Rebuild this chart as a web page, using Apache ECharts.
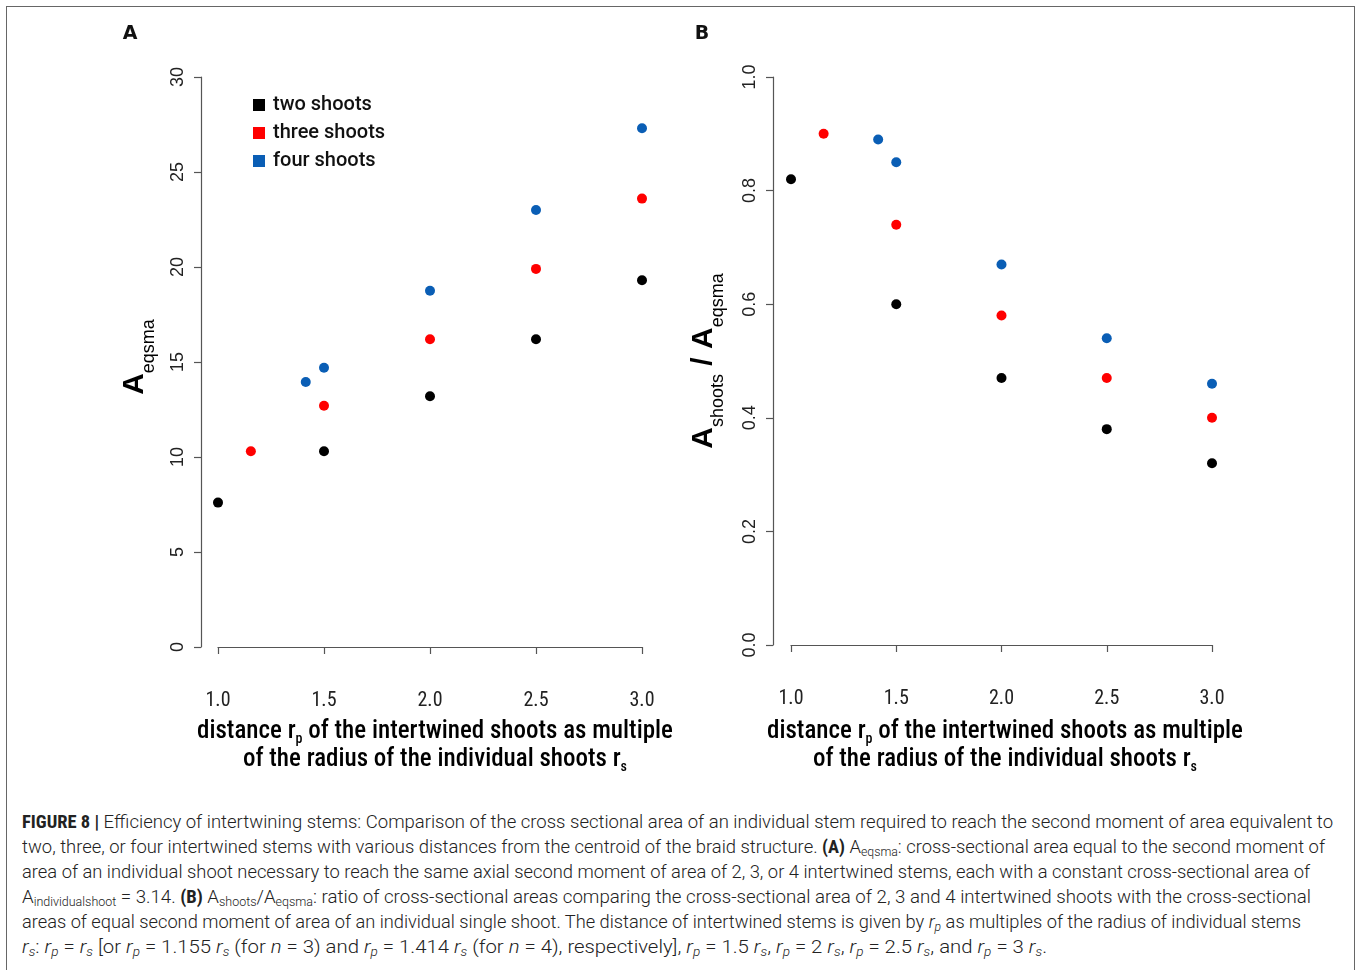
<!DOCTYPE html>
<html>
<head>
<meta charset="utf-8">
<script src="https://cdn.jsdelivr.net/npm/echarts@6/dist/echarts.min.js"></script>
<style>
  html, body { margin: 0; padding: 0; background: #fff; }
  #frame { position: absolute; left: 6px; top: 6px; width: 1349px; height: 975px; border: 1.5px solid #666; box-sizing: border-box; }
  #chart { position: absolute; left: 0; top: 0; width: 1358px; height: 800px; }
  #caption { position: absolute; left: 22px; top: 809px; width: 1330px; font-family: Roboto, 'Liberation Sans', sans-serif; font-weight: 300; font-size: 18px; line-height: 25px; color: #222; }
  #caption div { white-space: nowrap; display: block; width: max-content; transform-origin: 0 50%; }
  #caption b { font-weight: 700; font-family: 'Roboto Condensed', Roboto, sans-serif; }
  #caption sub { font-size: 12px; vertical-align: -3px; line-height: 0; }
</style>
</head>
<body>
<div id="frame"></div>
<div id="chart"></div>
<div id="caption">
<div data-w="1311"><b>FIGURE 8 |</b> Efficiency of intertwining stems: Comparison of the cross sectional area of an individual stem required to reach the second moment of area equivalent to</div>
<div data-w="1303">two, three, or four intertwined stems with various distances from the centroid of the braid structure. <b>(A)</b> A<sub>eqsma</sub>: cross-sectional area equal to the second moment of</div>
<div data-w="1288">area of an individual shoot necessary to reach the same axial second moment of area of 2, 3, or 4 intertwined stems, each with a constant cross-sectional area of</div>
<div data-w="1289">A<sub>individualshoot</sub> = 3.14. <b>(B)</b> A<sub>shoots</sub>/A<sub>eqsma</sub>: ratio of cross-sectional areas comparing the cross-sectional area of 2, 3 and 4 intertwined shoots with the cross-sectional</div>
<div data-w="1279">areas of equal second moment of area of an individual single shoot. The distance of intertwined stems is given by <i>r<sub>p</sub></i> as multiples of the radius of individual stems</div>
<div data-w="1025"><i>r<sub>s</sub></i>: <i>r<sub>p</sub></i> = <i>r<sub>s</sub></i> [or <i>r<sub>p</sub></i> = 1.155 <i>r<sub>s</sub></i> (for <i>n</i> = 3) and <i>r<sub>p</sub></i> = 1.414 <i>r<sub>s</sub></i> (for <i>n</i> = 4), respectively], <i>r<sub>p</sub></i> = 1.5 <i>r<sub>s</sub></i>, <i>r<sub>p</sub></i> = 2 <i>r<sub>s</sub></i>, <i>r<sub>p</sub></i> = 2.5 <i>r<sub>s</sub></i>, and <i>r<sub>p</sub></i> = 3 <i>r<sub>s</sub></i>.</div>
</div>
<script>
// ---- data ----
const seriesNames = ['two shoots', 'three shoots', 'four shoots'];
const xTwo   = [1.0, 1.5, 2.0, 2.5, 3.0];
const xThree = [1.155, 1.5, 2.0, 2.5, 3.0];
const xFour  = [1.414, 1.5, 2.0, 2.5, 3.0];
// Panel A: A_eqsma
const aEqTwo   = [7.6, 10.3, 13.2, 16.2, 19.3];
const aEqThree = [10.3, 12.7, 16.2, 19.9, 23.6];
const aEqFour  = [13.95, 14.7, 18.75, 23.0, 27.3];
// Panel B: A_shoots / A_eqsma
const ratioTwo   = [0.82, 0.60, 0.47, 0.38, 0.32];
const ratioThree = [0.90, 0.74, 0.58, 0.47, 0.40];
const ratioFour  = [0.89, 0.85, 0.67, 0.54, 0.46];
// tick values
const xTicks = [1.0, 1.5, 2.0, 2.5, 3.0];
const yTicksA = [0, 5, 10, 15, 20, 25, 30];
const yTicksB = [0.0, 0.2, 0.4, 0.6, 0.8, 1.0];

const colors = ['#000000', '#ff0000', '#0a5eb5'];
const zip = (xs, ys) => xs.map((x, i) => [x, ys[i]]);

const condensed = "'Roboto Condensed', 'Liberation Sans Narrow', 'Arial Narrow', Roboto, sans-serif";
const arial = "'Liberation Sans', Arial, Helvetica, sans-serif";
const axisColor = '#555';

function xAxisCfg(gridIndex) {
  return {
    type: 'value', gridIndex, min: xTicks[0], max: xTicks[xTicks.length - 1], interval: 0.5,
    position: 'bottom', offset: 23,
    axisLine: { show: true, lineStyle: { color: axisColor, width: 1.2 } },
    axisTick: { show: true, inside: false, length: 7, lineStyle: { color: axisColor, width: 1.2 } },
    splitLine: { show: false },
    axisLabel: { margin: 21, fontSize: 20, fontFamily: condensed, color: '#222', formatter: v => v.toFixed(1) }
  };
}
function yAxisCfg(gridIndex, ticks, offset, fmt) {
  return {
    type: 'value', gridIndex, min: ticks[0], max: ticks[ticks.length - 1], interval: ticks[1] - ticks[0],
    position: 'left', offset,
    axisLine: { show: true, lineStyle: { color: axisColor, width: 1.2 } },
    axisTick: { show: true, inside: false, length: 7, lineStyle: { color: axisColor, width: 1.2 } },
    splitLine: { show: false },
    axisLabel: { rotate: 90, margin: 14, fontSize: 18, fontFamily: arial, color: '#222', formatter: fmt }
  };
}
function scatter(name, data, idx, gi) {
  return {
    type: 'scatter', name, data, xAxisIndex: gi, yAxisIndex: gi, symbol: 'circle', symbolSize: 10,
    clip: false, itemStyle: { color: colors[idx], opacity: 1 }, emphasis: { disabled: true }
  };
}

const subMain = { fontSize: 25, fontFamily: condensed, fontWeight: 500, color: '#222', lineHeight: 28 };
const subSmall = { fontSize: 14, fontFamily: condensed, fontWeight: 500, color: '#222', lineHeight: 14, padding: [15, 0, 0, 0] };
const xTitleText = '{m|distance r}{s|p}{m| of the intertwined shoots as multiple}\n{m|of the radius of the individual shoots r}{s|s}';

const bigA = { fontSize: 30, fontWeight: 'bold', fontFamily: arial, color: '#111', lineHeight: 30, verticalAlign: 'top' };
const subA = { fontSize: 18, fontWeight: 'normal', fontFamily: arial, color: '#111', lineHeight: 18, padding: [20, 0, 0, 0], verticalAlign: 'top' };

const chart = echarts.init(document.getElementById('chart'), null, { renderer: 'canvas' });
chart.setOption({
  animation: false,
  backgroundColor: 'transparent',
  grid: [
    { left: 218, top: 77, width: 424, height: 570 },
    { left: 791, top: 77, width: 421, height: 568 }
  ],
  xAxis: [xAxisCfg(0), xAxisCfg(1)],
  yAxis: [
    yAxisCfg(0, yTicksA, 17, v => String(v)),
    yAxisCfg(1, yTicksB, 18, v => v.toFixed(1))
  ],
  legend: {
    data: seriesNames, orient: 'vertical', left: 248, top: 90,
    icon: 'rect', itemWidth: 12, itemHeight: 12, itemGap: 8,
    textStyle: { fontSize: 20, fontWeight: 500, fontFamily: 'Roboto, sans-serif', color: '#111', padding: [0, 0, 0, 3] },
    selectedMode: false
  },
  series: [
    scatter(seriesNames[0], zip(xTwo, aEqTwo), 0, 0),
    scatter(seriesNames[1], zip(xThree, aEqThree), 1, 0),
    scatter(seriesNames[2], zip(xFour, aEqFour), 2, 0),
    scatter(seriesNames[0], zip(xTwo, ratioTwo), 0, 1),
    scatter(seriesNames[1], zip(xThree, ratioThree), 1, 1),
    scatter(seriesNames[2], zip(xFour, ratioFour), 2, 1)
  ],
  graphic: [
    { type: 'text', x: 130, y: 34, style: { text: 'A', fontSize: 19, fontWeight: 'bold', fontFamily: "'DejaVu Sans', sans-serif", fill: '#111', align: 'center', verticalAlign: 'middle' } },
    { type: 'text', x: 702, y: 34, style: { text: 'B', fontSize: 19, fontWeight: 'bold', fontFamily: "'DejaVu Sans', sans-serif", fill: '#111', align: 'center', verticalAlign: 'middle' } },
    { type: 'text', x: 435, y: 746, style: { text: xTitleText, rich: { m: subMain, s: subSmall }, align: 'center', verticalAlign: 'middle' } },
    { type: 'text', x: 1005, y: 746, style: { text: xTitleText, rich: { m: subMain, s: subSmall }, align: 'center', verticalAlign: 'middle' } },
    { type: 'text', x: 135, y: 357, rotation: Math.PI / 2, style: { text: '{a|A}{b|eqsma}', rich: { a: bigA, b: subA }, align: 'center', verticalAlign: 'middle' } },
    { type: 'text', x: 704, y: 361, rotation: Math.PI / 2, style: { text: '{a|A}{b|shoots}{a| / A}{b|eqsma}', rich: { a: bigA, b: subA }, align: 'center', verticalAlign: 'middle' } }
  ]
});

// fit caption lines to the reference line widths
document.querySelectorAll('#caption div').forEach(function (d) {
  const target = parseFloat(d.getAttribute('data-w'));
  const w = d.getBoundingClientRect().width;
  if (w > 0 && target) d.style.transform = 'scaleX(' + (target / w) + ')';
});
</script>
</body>
</html>
